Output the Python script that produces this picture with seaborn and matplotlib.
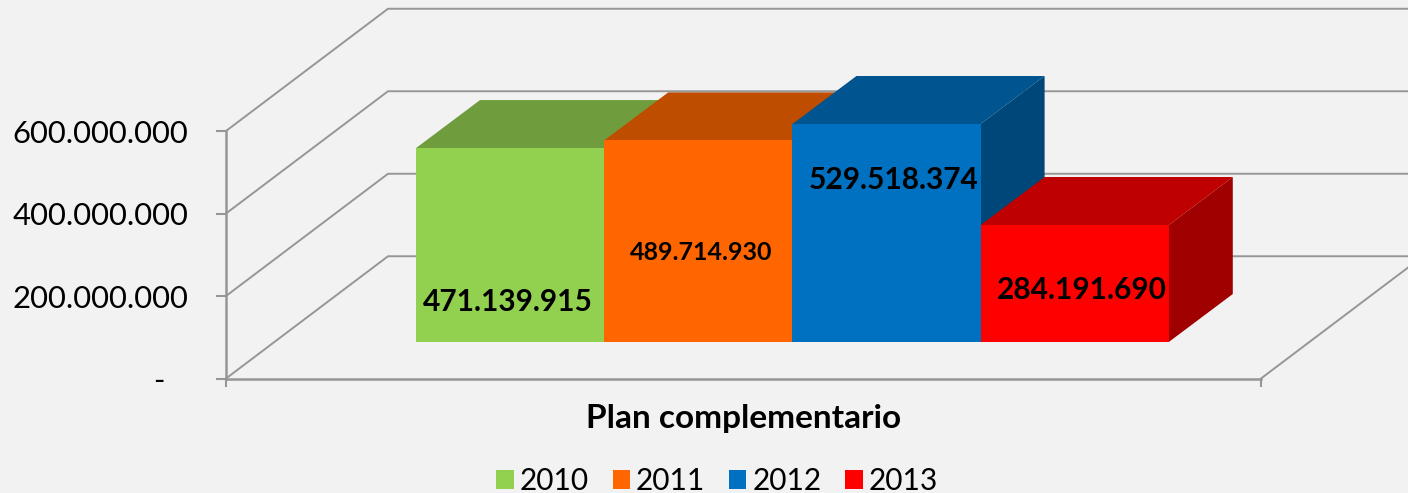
import pandas as pd
import matplotlib.pyplot as plt
from matplotlib.ticker import FuncFormatter
import seaborn as sns

years = ['2010', '2011', '2012', '2013']
values = [471139915, 489714930, 529518374, 284191690]
category = ['Plan complementario'] * 4
wall_ticks = [0, 200000000, 400000000, 600000000]

front_colors = ['#92D050', '#FF6600', '#0070C0', '#FF0000']
top_colors = ['#6F9C3D', '#BF4D00', '#00548F', '#BF0000']
side_colors = ['#5F8534', '#A34100', '#004779', '#A00000']

W, H = 1408, 493
BG = '#F2F2F2'
LINE = '#969696'
FONT = ['Lato', 'DejaVu Sans']


def fmt(v):
    return f'{int(v):,}'.replace(',', '.')


def rect(left, right, bottom, top):
    # pixel box (y down from the top) to figure fractions
    return [left / W, 1 - bottom / H, (right - left) / W, (bottom - top) / H]


sns.set_style('white', {'axes.facecolor': BG, 'figure.facecolor': BG})
plt.rcParams['font.family'] = FONT
plt.rcParams['text.color'] = 'black'
plt.rcParams['axes.labelcolor'] = 'black'

df = pd.DataFrame({'plan': category, 'year': years, 'value': values})

fig = plt.figure(figsize=(W / 100, H / 100), dpi=100)

# walls and floor
ax = fig.add_axes(rect(226, 1261, 378.5, 131))
ax.set_xlim(0, 1)
ax.set_ylim(0, 600000000)
wall_dx = 162 / 1035
wall_dy = 122 / 247 * 600000000
for v in wall_ticks:
    ax.plot([0, wall_dx, 1.2], [v, v + wall_dy, v + wall_dy], color=LINE, lw=1.4, clip_on=False)
ax.plot([1, 1 + wall_dx], [0, wall_dy], color=LINE, lw=1.4, clip_on=False)

sns.despine(ax=ax)
for s in ['left', 'bottom']:
    ax.spines[s].set_color(LINE)
    ax.spines[s].set_linewidth(1.8)
ax.set_yticks(wall_ticks)
ax.yaxis.set_major_formatter(FuncFormatter(lambda v, p: fmt(v) if v else '-   '))
ax.tick_params(axis='y', left=True, length=7, width=1.5, color=LINE, pad=20, labelsize=22.3, labelcolor='black')
ax.set_xticks([0, 1])
ax.set_xticklabels(['', ''])
ax.tick_params(axis='x', bottom=True, length=6, width=1.5, color=LINE)
ax.set_xlabel('Plan complementario', fontsize=24, fontweight='bold', labelpad=9)

# bars sit further back on the floor, same value scale
ax_bar = fig.add_axes(rect(226, 1261, 342, 95))
ax_bar.patch.set_alpha(0)
sns.barplot(data=df, x='plan', y='value', hue='year', hue_order=years, palette=front_colors,
            width=0.8, gap=0, linewidth=0, saturation=1, ax=ax_bar)
ax_bar.set_xlim(-0.602, 0.498)
ax_bar.set_ylim(0, 600000000)

depth_x = 64 / 941
depth_y = 48 / 247 * 600000000

bars = list(ax_bar.patches)[:4]
for b, tc, sc in zip(bars, top_colors, side_colors):
    x0, x1, y = b.get_x(), b.get_x() + b.get_width(), b.get_height()
    ax_bar.fill([x0, x1, x1 + depth_x, x0 + depth_x], [y, y, y + depth_y, y + depth_y],
                color=tc, lw=0, clip_on=False, zorder=1)
    ax_bar.fill([x1, x1 + depth_x, x1 + depth_x, x1], [0, depth_y, y + depth_y, y],
                color=sc, lw=0, clip_on=False, zorder=1)
    b.set_zorder(3)

# data labels: x shift in bar widths, y as share of bar height, font size
label_pos = [(-0.01, 0.206, 21.5), (0.015, 0.445, 18), (0.037, 0.742, 21.5), (0.037, 0.443, 21.5)]
for b, v, (sx, sy, fs) in zip(bars, values, label_pos):
    ax_bar.text(b.get_x() + b.get_width() * (0.5 + sx), v * sy, fmt(v), ha='center', va='center',
                fontsize=fs, fontweight='bold', color='black', zorder=5)

sns.move_legend(ax_bar, 'lower center', bbox_to_anchor=(717 / W, -0.004), bbox_transform=fig.transFigure,
                ncol=4, frameon=False, title=None, fontsize=21.5, handlelength=0.58, handleheight=0.58,
                handletextpad=0.2, columnspacing=0.8, borderpad=0, borderaxespad=0, labelspacing=0)
ax_bar.axis('off')
ax_bar.set_zorder(2)

fig.savefig('out.png', dpi=100, facecolor=BG)
